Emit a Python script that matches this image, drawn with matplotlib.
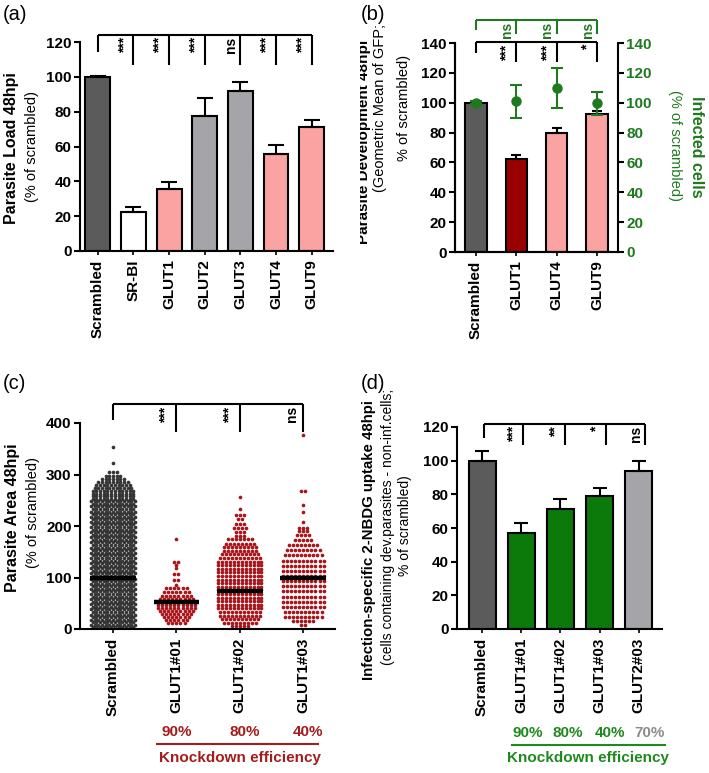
import matplotlib.pyplot as plt
import numpy as np
from matplotlib.lines import Line2D
from matplotlib.transforms import Bbox, TransformedBbox

plt.rcParams['font.family'] = ['Liberation Sans', 'DejaVu Sans']
plt.rcParams['font.weight'] = 'bold'
plt.rcParams['axes.linewidth'] = 1.5

# ---- data ----
a_labels = ['Scrambled', 'SR-BI', 'GLUT1', 'GLUT2', 'GLUT3', 'GLUT4', 'GLUT9']
a_means = [100, 22.5, 35.5, 77.5, 92, 55.5, 71]
a_err = [0.7, 2.5, 4, 10.5, 5, 5.5, 4]
a_sig = ['***', '***', '***', 'ns', '***', '***']

b_labels = ['Scrambled', 'GLUT1', 'GLUT4', 'GLUT9']
b_means = [100, 62, 79.5, 92.5]
b_err = [0.5, 3, 3.5, 2]
b_inf = [100, 101, 110, 99.5]
b_inf_err = [1, 11, 13.5, 8]
b_sig = ['***', '***', '*']
b_inf_sig = ['ns', 'ns', 'ns']

c_labels = ['Scrambled', 'GLUT1#01', 'GLUT1#02', 'GLUT1#03']
c_means = [100, 53, 74, 100]
c_sig = ['***', '***', 'ns']
# scatter rows: value level of each row of dots, and number of dots in it
scr_levels = [3, 8, 13, 18, 23, 28, 33, 38, 43, 48, 53, 58, 63, 68, 73, 78, 83, 88,
              93, 98, 103, 108, 113, 118, 123, 128, 133, 138, 143, 148, 153, 158,
              163, 168, 173, 178, 183, 188, 193, 198, 203, 208, 213, 218, 223, 228,
              233, 238, 243, 248, 253, 258, 263, 268, 274, 280, 286, 292, 298, 304,
              322, 353]
scr_counts = [12, 13, 12, 13, 12, 13, 12, 13, 12, 13, 12, 13, 12, 13, 12, 13, 12, 13,
              12, 13, 12, 13, 12, 13, 12, 13, 12, 13, 12, 13, 12, 13, 12, 13, 12, 13,
              12, 13, 12, 13, 12, 13, 12, 13, 12, 13, 12, 13, 12, 13, 12, 12, 12, 12,
              11, 10, 9, 7, 5, 3, 1, 1]
g01_levels = [175, 130, 125, 118, 106, 96, 86, 79, 72, 65, 59, 53, 47, 41, 35, 29, 23, 17, 11]
g01_counts = [1, 2, 1, 1, 2, 2, 1, 6, 7, 8, 9, 10, 10, 10, 9, 8, 7, 6, 5]
g02_levels = [256, 233, 221, 213, 204, 197, 189, 181, 174, 166, 159, 152, 145, 138,
              131, 124, 117, 110, 103, 96, 89, 82, 75, 68, 61, 54, 47, 40, 33, 26,
              19, 12, 6]
g02_counts = [1, 1, 3, 2, 3, 4, 3, 3, 7, 8, 9, 9, 10, 11, 12, 12, 12, 12, 12, 12,
              12, 12, 12, 12, 12, 12, 12, 12, 11, 11, 10, 9, 5]
g03_levels = [377, 267, 241, 228, 207, 197, 190, 182, 173, 163, 153, 143, 133, 123,
              113, 103, 93, 83, 73, 63, 53, 43, 33, 24, 16, 8]
g03_counts = [1, 2, 1, 1, 1, 3, 3, 4, 5, 8, 9, 10, 11, 11, 11, 11, 11, 11, 11, 11,
              11, 11, 10, 10, 6, 2]

d_labels = ['Scrambled', 'GLUT1#01', 'GLUT1#02', 'GLUT1#03', 'GLUT2#03']
d_means = [100, 57, 71.5, 79, 94]
d_err = [6, 6, 6, 4.5, 6]
d_sig = ['***', '**', '*', 'ns']

c_kd = ['90%', '80%', '40%']
d_kd = ['90%', '80%', '40%', '70%']

# ---- colours ----
DARK = '#5b5b5b'
GREY = '#a5a5a9'
PINK = '#fba3a3'
DRED = '#990000'
RED = '#a8161b'
GREEN = '#0b7a0b'
TGREEN = '#1f7a1f'
KRED = '#a51c1c'
KGREEN = '#1e8a1e'

W, H = 709, 773
fig = plt.figure(figsize=(W / 100, H / 100), dpi=100)


def fx(px):
    return px / W


def fy(py):
    return 1 - py / H


def style(ax, labels, ylim, step):
    ax.spines['top'].set_visible(False)
    ax.spines['right'].set_visible(False)
    ax.set_ylim(*ylim)
    ax.set_yticks(np.arange(ylim[0], ylim[1] + 1, step))
    ax.set_xticks(range(len(labels)))
    ax.set_xticklabels(labels, rotation=90, fontsize=11, fontweight='bold')
    ax.tick_params(axis='y', direction='out', length=4, width=1.5, labelsize=11, pad=2)
    ax.tick_params(axis='x', direction='out', length=3, width=1.2, pad=3)
    for t in ax.get_yticklabels():
        t.set_fontweight('bold')


def bracket(ax, xs, top, drop0, drop, sigs, color='black', dx=0.06, fs=10):
    kw = dict(color=color, lw=1.5, clip_on=False, solid_capstyle='butt')
    ax.plot([xs[0], xs[-1]], [top, top], **kw)
    ax.plot([xs[0], xs[0]], [drop0, top], **kw)
    for x, s in zip(xs[1:], sigs):
        ax.plot([x, x], [drop, top], **kw)
        ax.text(x - dx, top - (1.5 if s != 'ns' else 1.0) * (ax.get_ylim()[1] / 140), s,
                rotation=90, ha='right', va='top', fontsize=fs, fontweight='bold',
                color=color, clip_on=False)


def bars(ax, means, errs, colors, width, cap):
    x = np.arange(len(means))
    ax.bar(x, means, width=width, color=colors, edgecolor='black', linewidth=1.5, zorder=2)
    ax.errorbar(x, means, yerr=[np.zeros(len(errs)), errs], fmt='none', ecolor='black',
                elinewidth=1.5, capsize=cap, capthick=1.5, zorder=3)


# ---- (a) ----
axA = fig.add_axes([fx(80), fy(251), fx(253), 209 / H])
bars(axA, a_means, a_err, [DARK, 'white', PINK, GREY, GREY, PINK, PINK], 0.7, 5.5)
axA.set_xlim(-0.5, 6.6)
style(axA, a_labels, (0, 120), 20)
bracket(axA, list(range(7)), 124, 114, 107, a_sig)

# ---- (b) ----
axB = fig.add_axes([fx(455), fy(252), fx(163), 209 / H])
bars(axB, b_means, b_err, [DARK, DRED, PINK, PINK], 0.53, 3.5)
axB.set_xlim(-0.52, 3.52)
style(axB, b_labels, (0, 140), 20)
axB2 = axB.twinx()
axB2.set_ylim(0, 140)
axB2.set_yticks(np.arange(0, 141, 20))
axB2.spines['top'].set_visible(False)
axB2.tick_params(axis='y', direction='out', length=4, width=1.5, labelsize=11,
                 labelcolor=TGREEN, pad=2)
for t in axB2.get_yticklabels():
    t.set_fontweight('bold')
axB2.errorbar(range(4), b_inf, yerr=b_inf_err, fmt='o', color=TGREEN, ms=6.5,
              elinewidth=1.5, capsize=4, capthick=1.5, zorder=4)
bracket(axB, list(range(4)), 140.5, 133.5, 127.5, b_sig)
bracket(axB, list(range(4)), 155.5, 148.5, 146, b_inf_sig, color=TGREEN)

# ---- (c) ----
axC = fig.add_axes([fx(80), fy(629), fx(255), 206 / H])
groups = [(scr_levels, scr_counts, '#353535', 0.058),
          (g01_levels, g01_counts, RED, 0.064),
          (g02_levels, g02_counts, RED, 0.062),
          (g03_levels, g03_counts, RED, 0.064)]
for i, (lv, ct, col, sp) in enumerate(groups):
    xs, ys = [], []
    for v, n in zip(lv, ct):
        off = (np.arange(n) - (n - 1) / 2) * sp
        xs.extend(i + off)
        ys.extend([v] * n)
    axC.scatter(xs, ys, s=7, color=col, linewidths=0, zorder=2)
    axC.plot([i - 0.36, i + 0.36], [c_means[i], c_means[i]], color='black', lw=3.2,
             solid_capstyle='butt', zorder=3)
axC.set_xlim(-0.52, 3.5)
style(axC, c_labels, (0, 400), 100)
bracket(axC, list(range(4)), 436, 406, 383, c_sig, dx=0.06)

# ---- (d) ----
axD = fig.add_axes([fx(457), fy(629), fx(205), 202 / H])
bars(axD, d_means, d_err, [DARK, GREEN, GREEN, GREEN, GREY], 0.69, 5)
axD.set_xlim(-0.64, 4.59)
style(axD, d_labels, (0, 120), 20)
bracket(axD, [0.06, 1.05, 2.12, 3.16, 4.16], 121.8, 113.5, 109.3, d_sig)

# ---- axis titles ----
fig.text(fx(12), fy(148), 'Parasite Load 48hpi', rotation=90, ha='center', va='center',
         fontsize=11.5, fontweight='bold')
fig.text(fx(32), fy(146), '(% of scrambled)', rotation=90, ha='center', va='center',
         fontsize=10.5, fontweight='normal')

clip = TransformedBbox(Bbox([[360 / W, 0], [1, 1]]), fig.transFigure)
t = fig.text(fx(364), fy(142), 'Parasite Development 48hpi', rotation=90, ha='center',
             va='center', fontsize=11, fontweight='bold')
t.set_clip_box(clip)
t.set_clip_on(True)
fig.text(fx(380), fy(108), '(Geometric Mean of GFP;', rotation=90, ha='center',
         va='center', fontsize=10.5, fontweight='normal')
fig.text(fx(404), fy(108), '% of scrambled)', rotation=90, ha='center', va='center',
         fontsize=10.5, fontweight='normal')
fig.text(fx(696), fy(147), 'Infected cells', rotation=270, ha='center', va='center',
         fontsize=11.5, fontweight='bold', color=TGREEN)
fig.text(fx(675), fy(145), '(% of scrambled)', rotation=270, ha='center', va='center',
         fontsize=10.5, fontweight='normal', color=TGREEN)

fig.text(fx(13), fy(518), 'Parasite Area 48hpi', rotation=90, ha='center', va='center',
         fontsize=11.5, fontweight='bold')
fig.text(fx(33), fy(512), '(% of scrambled)', rotation=90, ha='center', va='center',
         fontsize=10.5, fontweight='normal')

fig.text(fx(369), fy(540), 'Infection-specific 2-NBDG uptake 48hpi', rotation=90,
         ha='center', va='center', fontsize=10.8, fontweight='bold')
fig.text(fx(388), fy(527), '(cells containing dev.parasites - non-inf.cells;', rotation=90,
         ha='center', va='center', fontsize=10, fontweight='normal')
fig.text(fx(405), fy(526), '% of scrambled)', rotation=90, ha='center', va='center',
         fontsize=10, fontweight='normal')

# ---- panel letters ----
for lab, px, py in [('(a)', 3, 14), ('(b)', 361, 14), ('(c)', 3, 384), ('(d)', 361, 384)]:
    fig.text(fx(px), fy(py), lab, ha='left', va='center', fontsize=14.5, fontweight='normal')

# ---- knockdown efficiency ----
for s, px in zip(c_kd, [177, 245, 308]):
    fig.text(fx(px), fy(732), s, ha='center', va='center', fontsize=11, color=KRED)
fig.add_artist(Line2D([fx(157), fx(318)], [fy(744), fy(744)], color=KRED, lw=1.5))
fig.text(fx(240), fy(758), 'Knockdown efficiency', ha='center', va='center', fontsize=11,
         color=KRED)

for s, px, col in zip(d_kd, [528, 568, 610, 650], [KGREEN, KGREEN, KGREEN, '#8c8c8c']):
    fig.text(fx(px), fy(733), s, ha='center', va='center', fontsize=11, color=col)
fig.add_artist(Line2D([fx(512), fx(665)], [fy(745), fy(745)], color=KGREEN, lw=1.5))
fig.text(fx(588), fy(758), 'Knockdown efficiency', ha='center', va='center', fontsize=11,
         color=KGREEN)

fig.savefig('out.png', dpi=100)
